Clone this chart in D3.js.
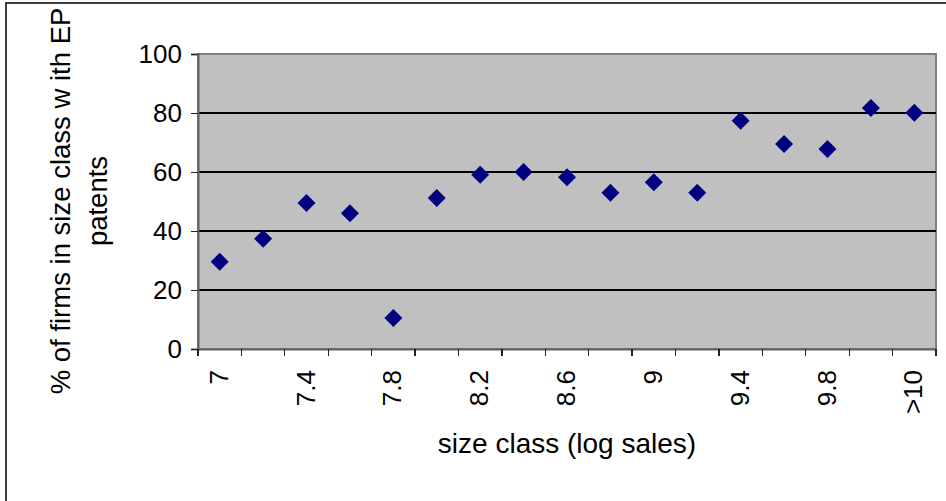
<!DOCTYPE html>
<html>
<head>
<meta charset="utf-8">
<script src="https://cdn.jsdelivr.net/npm/d3@7"></script>
<style>
  html, body { margin: 0; padding: 0; background: #ffffff; }
  svg { display: block; font-family: "Liberation Sans", Arial, sans-serif; }
</style>
</head>
<body>
<svg id="chart" width="946" height="501"></svg>
<script>
const categories = ["7","7.2","7.4","7.6","7.8","8","8.2","8.4","8.6","8.8","9","9.2","9.4","9.6","9.8","10",">10"];
const shareWithEP = [29.6, 37.4, 49.5, 46.0, 10.5, 51.2, 59.1, 60.0, 58.2, 53.0, 56.5, 53.0, 77.4, 69.5, 67.8, 81.7, 80.1];
const yTicks = [0, 20, 40, 60, 80, 100];
const xTitle = "size class (log sales)";
const yTitleLines = ["% of firms in size class w ith EP", "patents"];

(function () {
const svg = d3.select("#chart");
const pLeft = 198, pRight = 936, pTop = 54, pBottom = 349;

// outer chart border (top & left visible)
svg.append("rect").attr("x", 6).attr("y", 3).attr("width", 1000).attr("height", 600)
  .attr("fill", "none").attr("stroke", "#000").attr("stroke-width", 1.5);

const x = d3.scaleBand().domain(categories).range([pLeft, pRight]).padding(0);
const y = d3.scaleLinear().domain([0, 100]).range([pBottom, pTop]);

// plot area
svg.append("rect").attr("x", pLeft).attr("y", pTop).attr("width", pRight - pLeft).attr("height", pBottom - pTop)
  .attr("fill", "#c0c0c0").attr("stroke", "#808080").attr("stroke-width", 2);

// gridlines
svg.append("g").selectAll("line").data(yTicks.filter(v => v > 0 && v < 100)).join("line")
  .attr("x1", pLeft).attr("x2", pRight).attr("y1", d => y(d)).attr("y2", d => y(d))
  .attr("stroke", "#000").attr("stroke-width", 1.3).attr("shape-rendering", "crispEdges");

// y axis
const yAxis = svg.append("g").attr("transform", `translate(${pLeft},0)`)
  .call(d3.axisLeft(y).tickValues(yTicks).tickSize(7).tickPadding(9));
yAxis.select(".domain").attr("stroke", "#606060").attr("stroke-width", 2);
yAxis.selectAll(".tick line").attr("stroke", "#202020").attr("stroke-width", 1.3).attr("shape-rendering", "crispEdges");
yAxis.selectAll("text").attr("font-size", 26).attr("fill", "#000")
  .attr("font-family", "Liberation Sans, Arial, sans-serif");

// x axis (labels at band centers, every other category)
const xAxis = svg.append("g").attr("transform", `translate(0,${pBottom})`)
  .call(d3.axisBottom(x).tickSize(0).tickFormat((d, i) => i % 2 === 0 ? d : ""));
xAxis.select(".domain").attr("stroke", "#606060").attr("stroke-width", 2);
xAxis.selectAll("text")
  .attr("font-size", 26).attr("fill", "#000")
  .attr("font-family", "Liberation Sans, Arial, sans-serif")
  .attr("text-anchor", "end")
  .attr("transform", "rotate(-90)")
  .attr("x", -21).attr("y", -1).attr("dy", "0.35em");

// x tick marks at category boundaries
const bounds = categories.map(c => x(c)).concat([x.range()[1]]);
svg.append("g").selectAll("line").data(bounds).join("line")
  .attr("x1", d => d).attr("x2", d => d).attr("y1", pBottom).attr("y2", pBottom + 7)
  .attr("stroke", "#202020").attr("stroke-width", 1.3).attr("shape-rendering", "crispEdges");

// markers
svg.append("g").selectAll("path").data(shareWithEP).join("path")
  .attr("d", d3.symbol().type(d3.symbolSquare).size(162))
  .attr("transform", (d, i) => `translate(${x(categories[i]) + x.bandwidth() / 2},${y(d)}) rotate(45)`)
  .attr("fill", "#000080");

// axis titles
svg.append("text").attr("x", 567).attr("y", 453)
  .attr("text-anchor", "middle").attr("font-size", 28).attr("fill", "#000").text(xTitle);

const yt = svg.append("text").attr("transform", "translate(0,201) rotate(-90)")
  .attr("text-anchor", "middle").attr("font-size", 27.5).attr("fill", "#000");
yt.append("tspan").attr("x", 0).attr("y", 70).text(yTitleLines[0]);
yt.append("tspan").attr("x", 0).attr("y", 107).text(yTitleLines[1]);
})();
</script>
</body>
</html>
